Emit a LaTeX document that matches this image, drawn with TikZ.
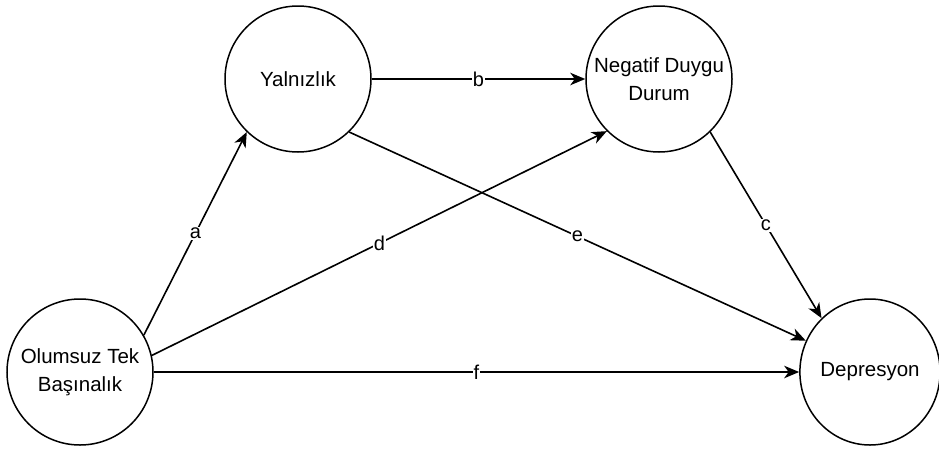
\documentclass[tikz,border=0pt]{standalone}
\usepackage{fontspec}
\setmainfont{Liberation Sans}
\usetikzlibrary{arrows.meta,shapes.geometric}
\tikzset{
  var/.style={circle,draw=black,line width=1.5pt,minimum size=146pt,inner sep=0pt,align=center,font=\fontsize{20.5}{27.5}\selectfont},
  varell/.style={ellipse,draw=black,line width=1.5pt,minimum width=133pt,minimum height=146pt,inner sep=0pt,align=center,font=\fontsize{20.5}{27.5}\selectfont},
  conn/.style={line width=1.6pt,-{Stealth[length=15pt,width=12.5pt,inset=4.5pt]}},
  lab/.style={fill=white,inner sep=1pt,font=\fontsize{20}{22}\selectfont}
}
\begin{document}
\begin{tikzpicture}[x=1pt,y=-1pt]
\useasboundingbox (0,0) rectangle (939,450);
\node[var] (O) at (80,372) {Olumsuz Tek\\Başınalık};
\node[var] (Y) at (298,79) {Yalnızlık};
\node[var] (N) at (659,79) {Negatif Duygu\\Durum};
\node[varell] (D) at (870,372) {Depresyon};
\draw[conn] (O.30) -- node[lab] (la) {a} (Y.226);
\draw[conn] (Y.0) -- node[lab] (lb) {b} (N.180);
\draw[conn] (N.314) -- node[lab] (lc) {c} (D.132);
\draw[conn] (O.13) -- node[lab] (ld) {d} (N.225);
\draw[conn] (Y.314) -- node[lab] (le) {e} (D.154);
\draw[conn] (O.0) -- node[lab] (lf) {f} (D.180);
\end{tikzpicture}
\end{document}
